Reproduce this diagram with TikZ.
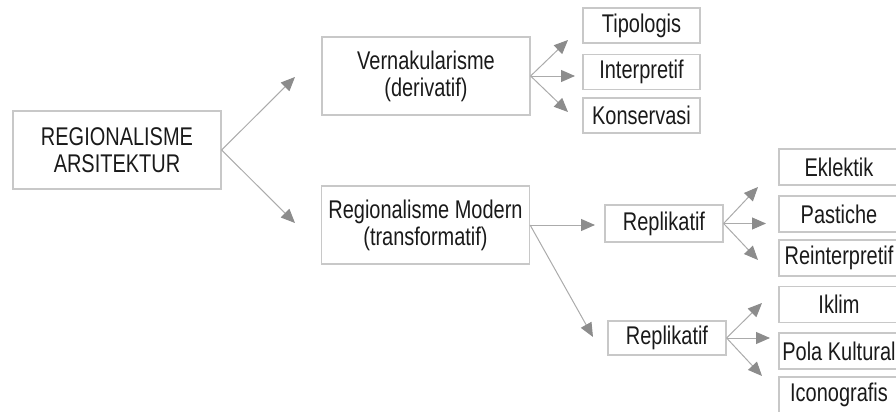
\documentclass[tikz,border=0pt]{standalone}
\usepackage{fontspec}
\setmainfont{Liberation Sans}[FakeStretch=0.78]
\usetikzlibrary{arrows.meta}
\definecolor{boxgray}{HTML}{C8C8C8}
\definecolor{linegray}{HTML}{ABABAB}
\definecolor{tipgray}{HTML}{8C8C8C}
\definecolor{textgray}{HTML}{1A1A1A}

\begin{document}
\begin{tikzpicture}[
	% one unit is one pixel of the reference, y pointing down
	x=0.5pt, y=-0.5pt,
	box/.style={draw=boxgray, line width=0.6pt, text=textgray, align=center, inner sep=0pt,
		font=\fontsize{12.8}{13.5}\selectfont},
	bigbox/.style={box, minimum width=104pt, minimum height=39pt},
	midbox/.style={box, minimum width=59pt, minimum height=18pt},
	leafbox/.style={box, minimum width=60pt, minimum height=18pt},
	arr/.style={draw=linegray, line width=0.5pt,
		-{Triangle[length=7pt, width=6pt, color=tipgray]}}
	]
	\useasboundingbox (0,0) rectangle (896,412);
	\clip (0,0) rectangle (896,412);
	\pgfmathsetmacro{\LeafX}{839}
	\pgfmathsetmacro{\TopLeafX}{641.5}

	% main boxes
	\node[bigbox] (Root) at (117,150) {REGIONALISME\\ARSITEKTUR};
	\node[bigbox] (Vernakular) at (426,76) {Vernakularisme\\(derivatif)};
	\node[bigbox] (Modern) at (425.5,225) {Regionalisme Modern\\(transformatif)};

	% leaves of the vernacular branch
	\node[midbox, minimum width=58.5pt, minimum height=17.5pt] (Tipologis) at (\TopLeafX,25.5) {Tipologis};
	\node[midbox, minimum width=58.5pt, minimum height=17.5pt] (Interpretif) at (\TopLeafX,72) {Interpretif};
	\node[midbox, minimum width=58.5pt, minimum height=17.5pt] (Konservasi) at (\TopLeafX,115.5) {Konservasi};

	% modern branch
	\node[midbox, minimum height=18.5pt] (ReplikatifA) at (664,223.5) {Replikatif};
	\node[midbox, minimum height=17pt] (ReplikatifB) at (667,338) {Replikatif};

	\node[leafbox] (Eklektik) at (\LeafX,167) {Eklektik};
	\node[leafbox] (Pastiche) at (\LeafX,214) {Pastiche};
	\node[leafbox] (Reinterpretif) at (\LeafX,258) {Reinterpretif};
	\node[leafbox] (Iklim) at (\LeafX,304.5) {Iklim};
	\node[leafbox] (PolaKultural) at (\LeafX,351) {Pola Kultural};
	\node[leafbox] (Iconografis) at (\LeafX,395) {Iconografis};

	% arrow tips stop short of the boxes
	\coordinate (VernakularTip) at (295,77);
	\coordinate (ModernTip) at (295,223);
	\coordinate (TipologisTip) at (568,40);
	\coordinate (InterpretifTip) at (575,76);
	\coordinate (KonservasiTip) at (568,112);
	\coordinate (ReplikatifATip) at (595,225);
	\coordinate (ReplikatifBTip) at (593,337);
	\coordinate (EklektikTip) at (758,187);
	\coordinate (PasticheTip) at (766,223.5);
	\coordinate (ReinterpretifTip) at (758,260);
	\coordinate (IklimTip) at (762,303);
	\coordinate (PolaKulturalTip) at (770,338);
	\coordinate (IconografisTip) at (762,376);

	\draw[arr] (Root.east) -- (VernakularTip);
	\draw[arr] (Root.east) -- (ModernTip);
	\draw[arr] (Vernakular.east) -- (TipologisTip);
	\draw[arr] (Vernakular.east) -- (InterpretifTip);
	\draw[arr] (Vernakular.east) -- (KonservasiTip);
	\draw[arr] (Modern.east) -- (ReplikatifATip);
	\draw[arr] (Modern.east) -- (ReplikatifBTip);
	\draw[arr] (ReplikatifA.east) -- (EklektikTip);
	\draw[arr] (ReplikatifA.east) -- (PasticheTip);
	\draw[arr] (ReplikatifA.east) -- (ReinterpretifTip);
	\draw[arr] (ReplikatifB.east) -- (IklimTip);
	\draw[arr] (ReplikatifB.east) -- (PolaKulturalTip);
	\draw[arr] (ReplikatifB.east) -- (IconografisTip);
\end{tikzpicture}
\end{document}
